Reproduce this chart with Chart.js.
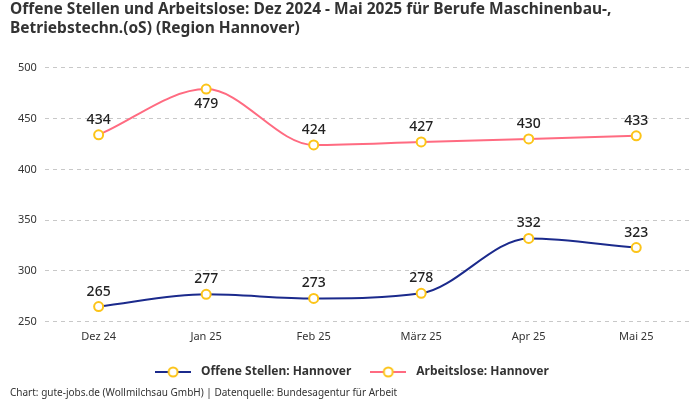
<!DOCTYPE html>
<html>
<head>
<meta charset="utf-8">
<style>
	html, body { margin: 0; padding: 0; background: #fff; }
	#wrap { width: 700px; height: 400px; position: relative; }
</style>
</head>
<body>
<div id="wrap"><canvas id="chart" width="700" height="400"></canvas></div>
<script src="https://cdn.jsdelivr.net/npm/chart.js@4.4.1/dist/chart.umd.min.js"></script>
<script>
	var months = ["Dez 24", "Jan 25", "Feb 25", "März 25", "Apr 25", "Mai 25"];
	var offeneStellen = [265, 277, 273, 278, 332, 323];
	var arbeitslose = [434, 479, 424, 427, 430, 433];
	var yTicks = [250, 300, 350, 400, 450, 500];

	var FONT = "'Noto Sans', sans-serif";
	var NAVY = "#1b2a8c";
	var PINK = "#ff6b81";
	var YELLOW = "#fcc419";

	// Legendensymbol: Linie mit Kreis
	function legendIcon(color){
		var c = document.createElement("canvas");
		c.width = 36; c.height = 14;
		var ctx = c.getContext("2d");
		ctx.strokeStyle = color;
		ctx.lineWidth = 2;
		ctx.beginPath(); ctx.moveTo(0, 7); ctx.lineTo(36, 7); ctx.stroke();
		ctx.fillStyle = "#fff";
		ctx.strokeStyle = YELLOW;
		ctx.beginPath(); ctx.arc(18, 7, 4.5, 0, Math.PI * 2); ctx.fill(); ctx.stroke();
		return c;
	}

	// Werte über den Punkten
	var valueLabels = {
		id: "valueLabels",
		afterDatasetsDraw: function(chart){
			var ctx = chart.ctx;
			ctx.save();
			ctx.font = "500 14px " + FONT;
			ctx.fillStyle = "#222";
			ctx.textAlign = "center";
			ctx.textBaseline = "middle";
			chart.data.datasets.forEach(function(ds, i){
				chart.getDatasetMeta(i).data.forEach(function(pt, j){
					var below = pt.y - chart.chartArea.top < 30;
					ctx.fillText(ds.data[j], pt.x, below ? pt.y + 15 : pt.y - 15);
				});
			});
			ctx.restore();
		}
	};

	// Quellenangabe unten links
	var sourceNote = {
		id: "sourceNote",
		afterDraw: function(chart){
			var ctx = chart.ctx;
			ctx.save();
			ctx.font = "10px " + FONT;
			ctx.fillStyle = "#333";
			ctx.textAlign = "left";
			ctx.textBaseline = "middle";
			ctx.fillText("Chart: gute-jobs.de (Wollmilchsau GmbH) | Datenquelle: Bundesagentur für Arbeit", 10, 393);
			ctx.restore();
		}
	};

	var icons = [legendIcon(NAVY), legendIcon(PINK)];

	new Chart(document.getElementById("chart"), {
		type: "line",
		data: {
			labels: months,
			datasets: [{
				label: "Offene Stellen: Hannover",
				data: offeneStellen,
				borderColor: NAVY,
				backgroundColor: NAVY,
				borderWidth: 2,
				cubicInterpolationMode: "monotone",
				pointRadius: 4.5,
				pointBorderWidth: 2,
				pointBackgroundColor: "#fff",
				pointBorderColor: YELLOW
			}, {
				label: "Arbeitslose: Hannover",
				data: arbeitslose,
				borderColor: PINK,
				backgroundColor: PINK,
				borderWidth: 2,
				cubicInterpolationMode: "monotone",
				pointRadius: 4.5,
				pointBorderWidth: 2,
				pointBackgroundColor: "#fff",
				pointBorderColor: YELLOW
			}]
		},
		options: {
			responsive: false,
			animation: false,
			devicePixelRatio: 1,
			layout: { padding: { left: 10, right: 10, top: 0, bottom: 12 } },
			scales: {
				x: {
					offset: true,
					grid: { display: false },
					border: { display: false },
					ticks: { color: "#333", font: { family: FONT, size: 11 }, padding: 0, maxRotation: 0 },
					afterFit: function(axis){ axis.height += 8; }
				},
				y: {
					min: 250,
					max: 500,
					afterBuildTicks: function(axis){
						axis.ticks = yTicks.map(function(v){ return { value: v }; });
					},
					grid: { color: "#c8c8c8", drawTicks: false },
					border: { display: false, dash: [4, 4] },
					ticks: { color: "#333", font: { family: FONT, size: 11 }, padding: 8 }
				}
			},
			plugins: {
				title: {
					display: true,
					text: ["Offene Stellen und Arbeitslose: Dez 2024 - Mai 2025 für Berufe Maschinenbau-,", "Betriebstechn.(oS) (Region Hannover)"],
					align: "start",
					color: "#333",
					font: { family: FONT, size: 15.5, weight: "bold", lineHeight: 1.25 },
					padding: { top: 0, bottom: 29 }
				},
				legend: {
					position: "bottom",
					labels: {
						usePointStyle: true,
						pointStyleWidth: 44,
						boxHeight: 14,
						color: "#333",
						font: { family: FONT, size: 12, weight: "bold" },
						padding: 15,
						generateLabels: function(chart){
							return chart.data.datasets.map(function(ds, i){
								return {
									text: ds.label,
									pointStyle: icons[i],
									fontColor: "#333",
									lineWidth: 0,
									datasetIndex: i
								};
							});
						}
					}
				},
				tooltip: { enabled: false }
			}
		},
		plugins: [valueLabels, sourceNote]
	});
</script>
</body>
</html>
